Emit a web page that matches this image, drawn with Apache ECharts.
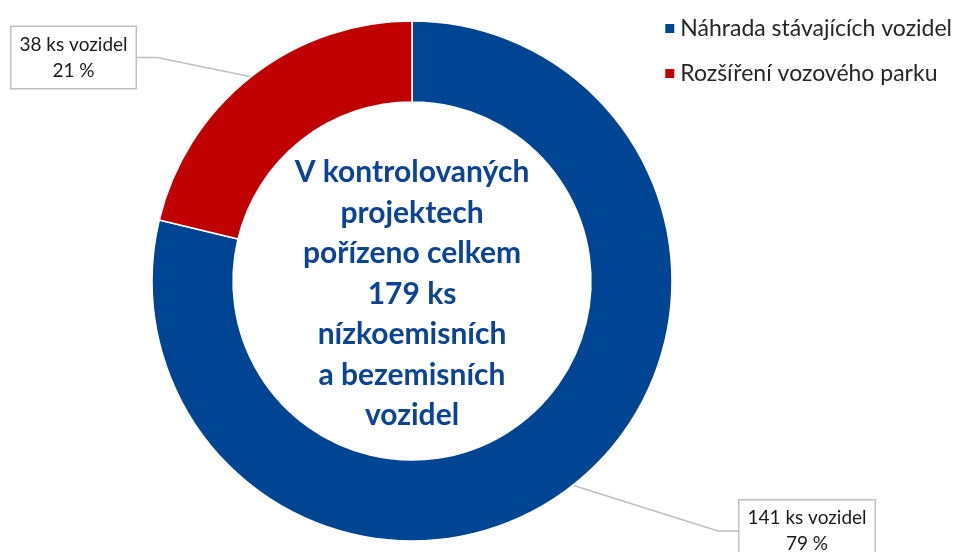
<!DOCTYPE html>
<html>
<head>
<meta charset="utf-8">
<script src="https://cdn.jsdelivr.net/npm/echarts@6/dist/echarts.min.js"></script>
<style>
  html, body { margin: 0; padding: 0; background: #fff; }
  #chart { width: 960px; height: 552px; }
</style>
</head>
<body>
<div id="chart"></div>
<script>
// data
const categories = ['Náhrada stávajících vozidel', 'Rozšíření vozového parku']
const counts = [141, 38]
const shares = [79, 21]
const colors = ['#004494', '#c00000']
const centerText = ['V kontrolovaných', 'projektech', 'pořízeno celkem', '179 ks', 'nízkoemisních', 'a bezemisních', 'vozidel']

// where the callout boxes sit (centre of box)
const labelPos = [[807, 531], [73.5, 57.5]]

const myChart = echarts.init(document.getElementById('chart'))
const font = 'Lato, "Open Sans", sans-serif'

const option = {
  backgroundColor: '#fff',
  animation: false,
  legend: {
    orient: 'vertical',
    right: 3,
    top: 12,
    icon: 'rect',
    itemWidth: 11,
    itemHeight: 11,
    itemGap: 22,
    data: categories,
    textStyle: { fontFamily: font, fontSize: 23, color: '#262626' }
  },
  series: [
    {
      type: 'pie',
      center: [412, 281],
      radius: [179, 260],
      startAngle: 90,
      clockwise: true,
      itemStyle: { borderColor: '#fff', borderWidth: 1.5 },
      label: {
        show: true,
        position: 'outside',
        formatter: function (p) {
          return counts[p.dataIndex] + ' ks vozidel\n' + shares[p.dataIndex] + ' %'
        },
        fontFamily: font,
        fontSize: 19,
        lineHeight: 26,
        color: '#1a1a1a',
        align: 'center',
        backgroundColor: '#fff',
        borderColor: '#bfbfbf',
        borderWidth: 1.5,
        padding: [5, 8, 4, 8]
      },
      labelLine: {
        show: true,
        length: 20,
        length2: 20,
        lineStyle: { color: '#bfbfbf', width: 1.5 }
      },
      labelLayout: function (params) {
        const pos = labelPos[params.dataIndex]
        return { x: pos[0], y: pos[1], align: 'center', verticalAlign: 'middle' }
      },
      data: categories.map(function (name, i) {
        return { name: name, value: counts[i], itemStyle: { color: colors[i] } }
      })
    }
  ],
  graphic: [
    {
      type: 'text',
      x: 412,
      y: 294,
      z: 10,
      style: {
        text: centerText.join('\n'),
        font: 'bold 30px ' + font,
        lineHeight: 40.5,
        fill: '#0b4496',
        align: 'center',
        verticalAlign: 'middle'
      }
    }
  ]
}
myChart.setOption(option)
</script>
</body>
</html>
